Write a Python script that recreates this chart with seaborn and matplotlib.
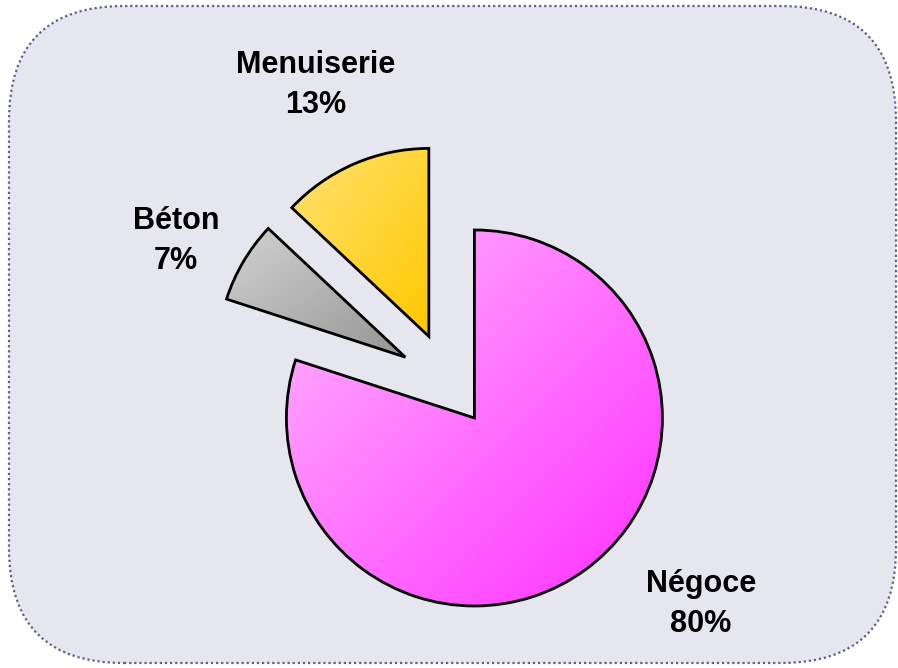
import numpy as np
import matplotlib
matplotlib.use("Agg")
import matplotlib.pyplot as plt
from matplotlib.patches import FancyBboxPatch
import seaborn as sns

# données du camembert
categories = ["Négoce", "Béton", "Menuiserie"]
parts = [80, 7, 13]
explode = [0.23, 0.27, 0.27]  # en fraction du rayon
# couleurs des dégradés (clair -> foncé)
grad_colors = [("#FFB8FF", "#FF2EFF"), ("#D2D2D2", "#959595"), ("#FFE270", "#FFC800")]
# positions des étiquettes (pixels)
label_xy = [(701, 64), (176, 427), (316, 583)]

sns.set_theme(style="white")
plt.rcParams['font.family'] = ['Liberation Sans', 'DejaVu Sans']

W, H = 898, 668
R = 188
fig = plt.figure(figsize=(W / 100, H / 100), dpi=100)
fig.patch.set_facecolor("white")
ax = fig.add_axes([0, 0, 1, 1])
ax.set_xlim(0, W)
ax.set_ylim(0, H)
ax.set_aspect("equal")
ax.axis("off")

# fond arrondi avec bordure pointillée
fond = FancyBboxPatch((9, 5), 887, 657, boxstyle="round,pad=0,rounding_size=115",
                      facecolor="#E6E6EE", edgecolor="#5C5C96", linewidth=1.6,
                      linestyle=(0, (1, 1.3)), zorder=0)
ax.add_patch(fond)

wedges, _ = ax.pie(parts, explode=[e * R for e in explode], startangle=90, counterclock=False,
                   center=(449, H - 383), radius=R,
                   wedgeprops=dict(edgecolor="black", linewidth=2.0, facecolor="none", zorder=3))

# dégradé diagonal dans chaque part
gx, gy = np.meshgrid(np.linspace(0, 1, 256), np.linspace(0, 1, 256))
grad = (gx + (1 - gy)) / 2
for w, (c1, c2) in zip(wedges, grad_colors):
    cmap = sns.blend_palette([c1, c2], as_cmap=True)
    bb = w.get_path().get_extents()
    im = ax.imshow(grad, cmap=cmap, extent=[bb.x0, bb.x1, bb.y0, bb.y1],
                   origin="lower", aspect="auto", zorder=2, interpolation="bilinear")
    im.set_clip_path(w)
ax.set_xlim(0, W)
ax.set_ylim(0, H)

for name, p, (x, y) in zip(categories, parts, label_xy):
    ax.text(x, y, f"{name}\n{p}%", ha="center", va="center", multialignment="center",
            fontsize=22, fontweight="bold", color="black", linespacing=1.45, zorder=4)

fig.savefig("out.png", dpi=100)
